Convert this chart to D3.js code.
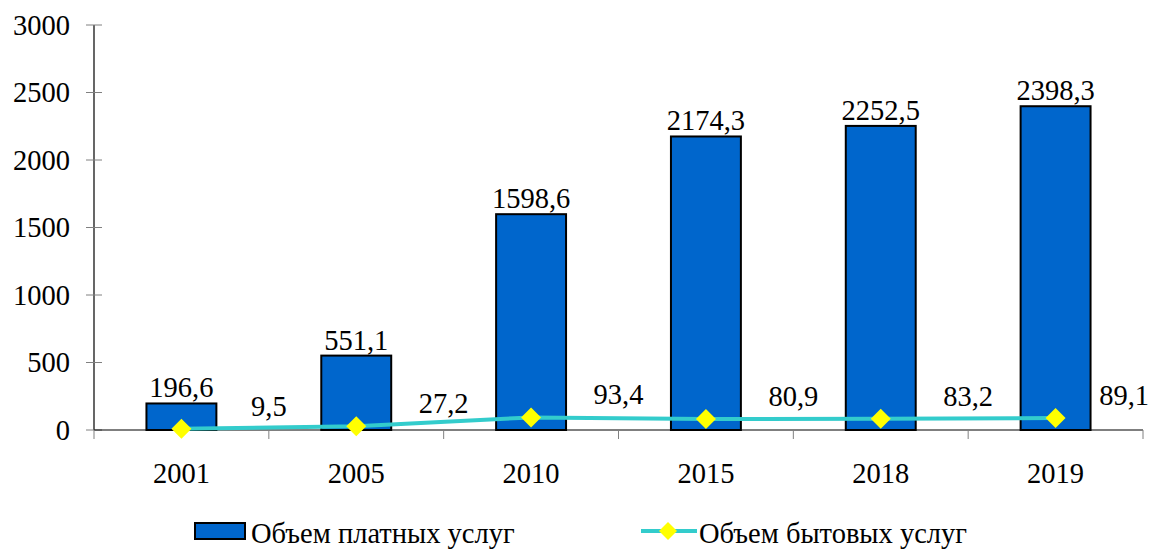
<!DOCTYPE html>
<html>
<head>
<meta charset="utf-8">
<script src="https://cdn.jsdelivr.net/npm/d3@7"></script>
<style>
  html, body { margin: 0; padding: 0; background: #fff; }
  svg { display: block; }
</style>
</head>
<body>
<svg id="chart" width="1159" height="550" font-family="'Liberation Serif', 'Times New Roman', 'DejaVu Serif', serif"></svg>
<script>
// Years on the category axis
const years = ["2001", "2005", "2010", "2015", "2018", "2019"];
// Volume of paid services (bars)
const paidServices = [196.6, 551.1, 1598.6, 2174.3, 2252.5, 2398.3];
// Volume of household services (line)
const householdServices = [9.5, 27.2, 93.4, 80.9, 83.2, 89.1];
// Value-axis ticks
const yTicks = [0, 500, 1000, 1500, 2000, 2500, 3000];
// Legend entries
const seriesNames = ["Объем платных услуг", "Объем бытовых услуг"];

const fmt = v => String(v).replace(".", ",");

const W = 1159;
const svg = d3.select("#chart");
const plotLeft = 94, plotRight = 1143, plotTop = 25, plotBottom = 430;
const fontSize = 28.5;

const x = d3.scaleBand().domain(years).range([plotLeft, plotRight]).paddingInner(0).paddingOuter(0);
const y = d3.scaleLinear().domain([0, 3000]).range([plotBottom, plotTop]);
const step = x.step();
const barW = step * 0.4;
const cx = d => x(d) + step / 2;

// Bars
svg.append("g").selectAll("rect").data(years).join("rect")
  .attr("x", (d) => cx(d) - barW / 2)
  .attr("y", (d, i) => y(paidServices[i]))
  .attr("width", barW)
  .attr("height", (d, i) => y(0) - y(paidServices[i]))
  .attr("fill", "#0066CC")
  .attr("stroke", "#000")
  .attr("stroke-width", 2);

// Bar value labels
svg.append("g").selectAll("text").data(years).join("text")
  .attr("x", d => cx(d))
  .attr("y", (d, i) => y(paidServices[i]) - 6)
  .attr("text-anchor", "middle")
  .attr("font-size", fontSize)
  .text((d, i) => fmt(paidServices[i]));

// Y axis
const yAxis = svg.append("g");
yAxis.append("line")
  .attr("x1", plotLeft).attr("x2", plotLeft).attr("y1", plotTop).attr("y2", plotBottom)
  .attr("stroke", "#000").attr("stroke-width", 1.2);
yAxis.selectAll("line.tick").data(yTicks).join("line")
  .attr("class", "tick")
  .attr("x1", plotLeft - 8).attr("x2", plotLeft + 8)
  .attr("y1", d => y(d)).attr("y2", d => y(d))
  .attr("stroke", "#808080").attr("stroke-width", 1);
yAxis.selectAll("text").data(yTicks).join("text")
  .attr("x", plotLeft - 24)
  .attr("y", d => y(d))
  .attr("dy", "0.35em")
  .attr("text-anchor", "end")
  .attr("font-size", fontSize)
  .text(d => d);

// X axis
const xAxis = svg.append("g");
xAxis.append("line")
  .attr("x1", plotLeft).attr("x2", plotRight).attr("y1", plotBottom).attr("y2", plotBottom)
  .attr("stroke", "#000").attr("stroke-width", 1.2);
const boundaries = years.map(d => x(d)).concat([plotRight]);
xAxis.selectAll("line.tick").data(boundaries).join("line")
  .attr("class", "tick")
  .attr("x1", d => d).attr("x2", d => d)
  .attr("y1", plotBottom).attr("y2", plotBottom + 9)
  .attr("stroke", "#808080").attr("stroke-width", 1);
xAxis.selectAll("text").data(years).join("text")
  .attr("x", d => cx(d))
  .attr("y", 483)
  .attr("text-anchor", "middle")
  .attr("font-size", fontSize)
  .text(d => d);

// Line series
const line = d3.line()
  .x((d, i) => cx(years[i]))
  .y(d => y(d));
svg.append("path")
  .datum(householdServices)
  .attr("d", line)
  .attr("fill", "none")
  .attr("stroke", "#33CCCC")
  .attr("stroke-width", 4);

const diamond = (s) => `M0,${-s}L${s},0L0,${s}L${-s},0Z`;
svg.append("g").selectAll("path").data(householdServices).join("path")
  .attr("transform", (d, i) => `translate(${cx(years[i])},${y(d)})`)
  .attr("d", diamond(10))
  .attr("fill", "#FFFF00");

// Line value labels, kept inside the right edge of the canvas
svg.append("g").selectAll("text").data(householdServices).join("text")
  .attr("x", (d, i) => cx(years[i]) + step / 2)
  .attr("y", d => y(d) - 13)
  .attr("text-anchor", "middle")
  .attr("font-size", fontSize)
  .text(d => fmt(d))
  .each(function () {
    const t = d3.select(this);
    const w = this.getComputedTextLength();
    const xc = +t.attr("x");
    if (xc + w / 2 > W - 10) t.attr("x", W - 10 - w / 2);
  });

// Legend
const lg = svg.append("g");
lg.append("rect")
  .attr("x", 195).attr("y", 523).attr("width", 50).attr("height", 16)
  .attr("fill", "#0066CC").attr("stroke", "#000").attr("stroke-width", 2);
lg.append("text")
  .attr("x", 251).attr("y", 543)
  .attr("font-size", fontSize)
  .text(seriesNames[0]);
lg.append("line")
  .attr("x1", 641).attr("x2", 697).attr("y1", 531).attr("y2", 531)
  .attr("stroke", "#33CCCC").attr("stroke-width", 4);
lg.append("path")
  .attr("transform", "translate(668,531)")
  .attr("d", diamond(9))
  .attr("fill", "#FFFF00");
lg.append("text")
  .attr("x", 699).attr("y", 543)
  .attr("font-size", fontSize)
  .text(seriesNames[1]);
</script>
</body>
</html>
